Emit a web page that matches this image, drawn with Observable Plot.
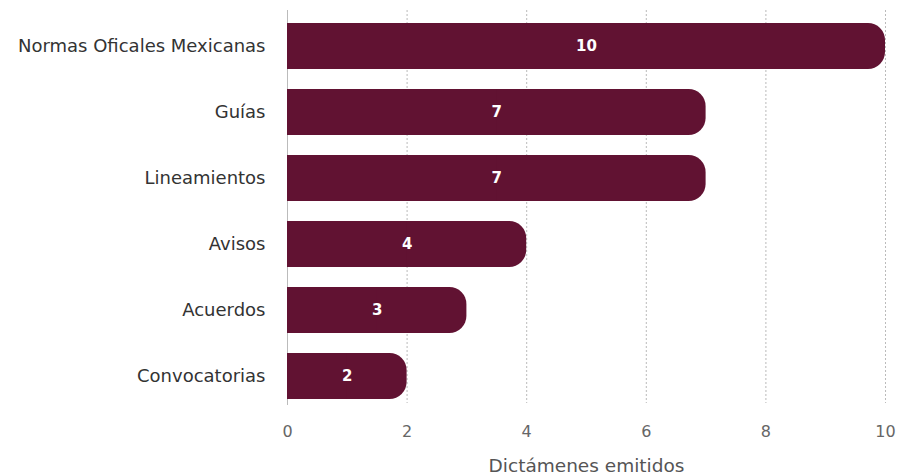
<!DOCTYPE html>
<html><head><meta charset="utf-8">
<script src="https://cdn.jsdelivr.net/npm/d3@7"></script>
<script src="https://cdn.jsdelivr.net/npm/@observablehq/plot@0.6"></script>
<style>
html,body{margin:0;padding:0;background:#fff;}
#chart{width:897px;height:476px;}
</style></head>
<body><div id="chart"></div>
<script>
const categories = ["Normas Oficales Mexicanas","Guías","Lineamientos","Avisos","Acuerdos","Convocatorias"];
const values = [10,7,7,4,3,2];
const xTicks = [0,2,4,6,8,10];
const gridTicks = [2,4,6,8,10];
const xLabel = "Dictámenes emitidos";

const data = categories.map((c,i)=>({cat:c, value:values[i]}));
const color = "#611232";
const font = '"DejaVu Sans", "Open Sans", sans-serif';

const plot = Plot.plot({
  width: 897,
  height: 476,
  marginLeft: 287,
  marginRight: 12,
  marginTop: 12,
  marginBottom: 65,
  x: {domain:[0,10]},
  y: {domain: categories, paddingInner: 0.3, paddingOuter: 0.15},
  style: {fontSize:"16px", color:"#333", fontFamily: font},
  marks: [
    Plot.ruleX(gridTicks, {x:d=>d, stroke:"#bbb", strokeDasharray:"2,2", strokeWidth:1, insetBottom:8, insetTop:-2}),
    Plot.ruleX([0], {stroke:"#bbb", strokeWidth:1, insetBottom:6, insetTop:-2}),
    Plot.barX(data, {y:"cat", x1:0, x2:"value", fill:color, rx:17}),
    Plot.barX(data, {y:"cat", x1:0, x2:d=>d.value/2, fill:color}),
    Plot.text(data, {y:"cat", x:d=>d.value/2, text:d=>String(d.value), fill:"#fff", fontWeight:"bold", fontSize:15}),
    Plot.axisY({tickSize:0, tickPadding:22, fontSize:18, color:"#333", label:null}),
    Plot.axisX(xTicks, {tickSize:0, tickPadding:14, fontSize:16, color:"#666", label:null}),
    Plot.text([xLabel], {frameAnchor:"bottom", dy:60, text:d=>d, fontSize:18.5, fill:"#555"})
  ]
});
document.getElementById("chart").appendChild(plot);
</script></body></html>
